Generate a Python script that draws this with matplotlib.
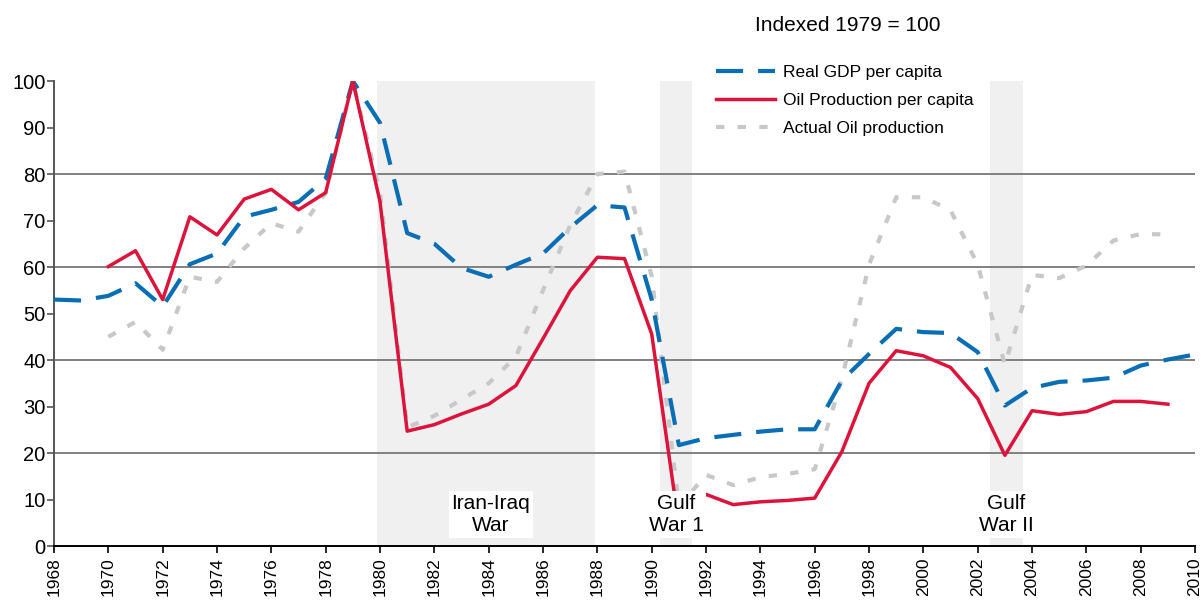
import numpy as np
import matplotlib
matplotlib.use("Agg")
import matplotlib.pyplot as plt

plt.rcParams['font.family'] = ['Liberation Sans', 'DejaVu Sans']

years = list(range(1968, 2011))

# Real GDP per capita, 1968-2010
gdp = [53, 52.8, 53.8, 56.5, 51.5, 60.6, 62.9, 70.8, 72.3, 74, 79, 100, 91,
       67.3, 65, 59.8, 57.9, 60.5, 62.9, 68.5, 73.3, 72.8, 53, 21.7, 23.2,
       23.9, 24.6, 25.1, 25.1, 35.6, 41.3, 46.7, 46, 45.8, 41.7, 30.2, 34,
       35.3, 35.6, 36.2, 38.8, 40.1, 41.2]

# oil production per capita, 1970-2009
oil_pc = [60.1, 63.5, 53, 70.8, 66.9, 74.6, 76.7, 72.3, 76, 100, 74, 24.7,
          26.1, 28.4, 30.5, 34.5, 44.6, 54.9, 62.1, 61.8, 45.6, 4.5, 11.1,
          8.9, 9.5, 9.8, 10.3, 20.3, 35, 42, 40.9, 38.4, 31.7, 19.5, 29.1,
          28.3, 28.9, 31.1, 31.1, 30.5]

# actual oil production, 1970-2009
oil = [45, 48.2, 42.2, 57.9, 56.8, 64, 69.4, 67.6, 76, 100, 76, 25.5, 28,
       31.5, 35, 40.7, 55, 69, 80, 80.5, 58, 8.5, 15.3, 13.1, 14.8, 15.5,
       16.5, 36, 60.5, 75, 75, 72.2, 60.5, 39, 58.3, 57.6, 60.3, 65.7, 67.1,
       67]
oil_years = years[2:42]

wars = [(1979.9, 1987.9), (1990.3, 1991.5), (2002.45, 2003.65)]
war_labels = ["Iran-Iraq\nWar", "Gulf\nWar 1", "Gulf\nWar II"]
label_x = [1984.07, 1990.9, 2003.05]

fig = plt.figure(figsize=(12.03, 6.01), dpi=100)
ax = fig.add_axes([0.0449, 0.0915, 0.9485, 0.7737])

for (a, b) in wars:
    ax.axvspan(a, b, color='#f0f0f0', zorder=0, lw=0)
for g in [20, 40, 60, 80]:
    ax.axhline(g, color='#808080', lw=1.4, zorder=1)

ax.plot(years, gdp, color='#0a6eb4', lw=3, ls=(0, (6.5, 3.6)),
        label='Real GDP per capita', zorder=3)
ax.plot(oil_years, oil_pc, color='#dc143c', lw=2.5,
        label='Oil Production per capita', zorder=4)
ax.plot(oil_years, oil, color='#c8c8c8', lw=3, ls=(0, (2, 3.2)),
        label='Actual Oil production', zorder=2)

for x, s in zip(label_x, war_labels):
    ax.text(x, 6.8, s, ha='center', va='center', fontsize=15,
            linespacing=1.2, zorder=6,
            bbox=dict(facecolor='white', edgecolor='none', pad=2))

ax.set_xlim(1968, 2010)
ax.set_ylim(0, 100)
ax.set_xticks(range(1968, 2011, 2))
ax.set_yticks(range(0, 101, 10))
ax.tick_params(axis='x', labelrotation=90, labelsize=12.5, length=5,
               width=1.2, pad=3, color='black')
ax.tick_params(axis='y', labelsize=14.5, length=5, width=1.2, pad=1,
               color='#555555')
for s in ['top', 'right']:
    ax.spines[s].set_visible(False)
ax.spines['left'].set_color('#555555')
ax.spines['left'].set_linewidth(1.4)
ax.spines['bottom'].set_color('black')
ax.spines['bottom'].set_linewidth(1.4)

fig.text(0.7045, 0.958, 'Indexed 1979 = 100', ha='center', va='center',
         fontsize=15)
fig.legend(loc='upper left', bbox_to_anchor=(0.5955, 0.892), frameon=False,
           fontsize=12.5, handlelength=3.4, handletextpad=0.45,
           labelspacing=0.74, borderpad=0, borderaxespad=0)

fig.savefig('out.png', dpi=100)
